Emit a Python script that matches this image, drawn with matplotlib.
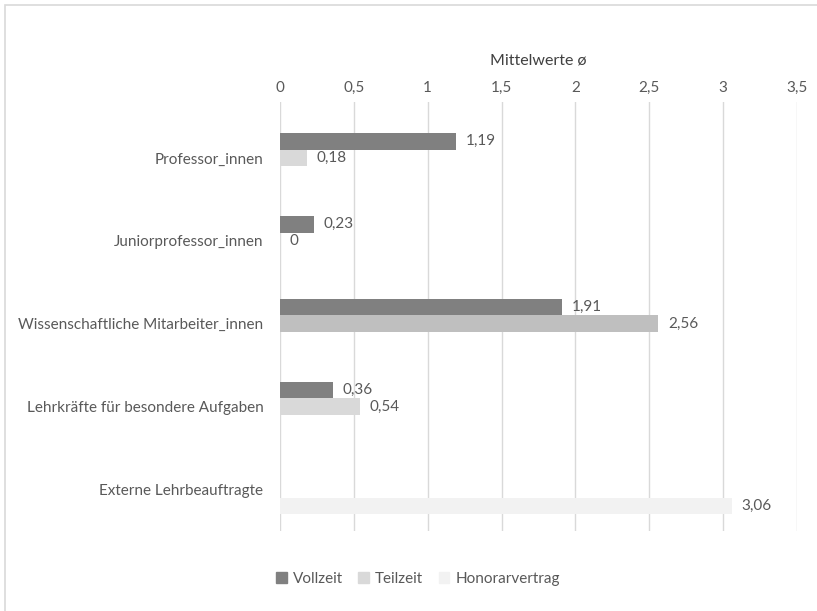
import matplotlib.pyplot as plt
import matplotlib.patches as mpatches

categories = ['Professor_innen', 'Juniorprofessor_innen', 'Wissenschaftliche Mitarbeiter_innen',
              'Lehrkräfte für besondere Aufgaben', 'Externe Lehrbeauftragte']
vollzeit = [1.19, 0.23, 1.91, 0.36, None]
teilzeit = [0.18, 0.0, 2.56, 0.54, None]
honorar = [None, None, None, None, 3.06]
teilzeitColors = ['#d9d9d9', '#d9d9d9', '#bfbfbf', '#d9d9d9', '#d9d9d9']
xticks = [0, 0.5, 1, 1.5, 2, 2.5, 3, 3.5]

textColor = '#595959'
plt.rcParams['font.family'] = ['Lato', 'DejaVu Sans']
plt.rcParams['font.size'] = 11

fig = plt.figure(figsize=(8.17, 6.11), dpi=100)
ax = fig.add_axes([280 / 817, 1 - 531 / 611, (797 - 280) / 817, (531 - 102) / 611])

barH = 0.2
series = [(vollzeit, -barH, ['#808080'] * 5), (teilzeit, 0, teilzeitColors), (honorar, barH, ['#f2f2f2'] * 5)]
for values, offset, colors in series:
    for i, v in enumerate(values):
        if v is None:
            continue
        ax.barh(i + offset, v, height=barH, color=colors[i], zorder=2)
        ax.annotate(f'{v:g}'.replace('.', ','), (v, i + offset), xytext=(7, 0),
                    textcoords='offset points', va='center', ha='left', color=textColor, fontsize=11)

ax.set_xlim(0, 3.5)
ax.set_ylim(4.5, -0.675)
ax.set_xticks(xticks)
ax.set_xticklabels([f'{t:g}'.replace('.', ',') for t in xticks], color=textColor)
ax.xaxis.tick_top()
ax.xaxis.set_label_position('top')
ax.set_xlabel('Mittelwerte ø', color='#404040', fontsize=11.5, labelpad=12)
ax.set_yticks(range(len(categories)))
ax.set_yticklabels(categories, color=textColor)
ax.tick_params(axis='both', length=0)
ax.tick_params(axis='y', pad=12)
ax.tick_params(axis='x', pad=5)
ax.grid(axis='x', color='#d9d9d9', linewidth=1, zorder=0)
for s in ax.spines.values():
    s.set_visible(False)

handles = [mpatches.Patch(color='#808080', label='Vollzeit'),
           mpatches.Patch(color='#d9d9d9', label='Teilzeit'),
           mpatches.Patch(color='#f2f2f2', label='Honorarvertrag')]
leg = fig.legend(handles=handles, loc='center', bbox_to_anchor=(418 / 817, 1 - 579 / 611), ncol=3,
                 frameon=False, handlelength=0.7, handleheight=0.7, handletextpad=0.4, columnspacing=1.0)
for t in leg.get_texts():
    t.set_color(textColor)

fig.patches.append(mpatches.Rectangle((5 / 817, -0.1), 1.2, 1 - 5 / 611 + 0.1, transform=fig.transFigure,
                                      fill=False, edgecolor='#d9d9d9', linewidth=1.2))

plt.savefig('out.png', dpi=100)
